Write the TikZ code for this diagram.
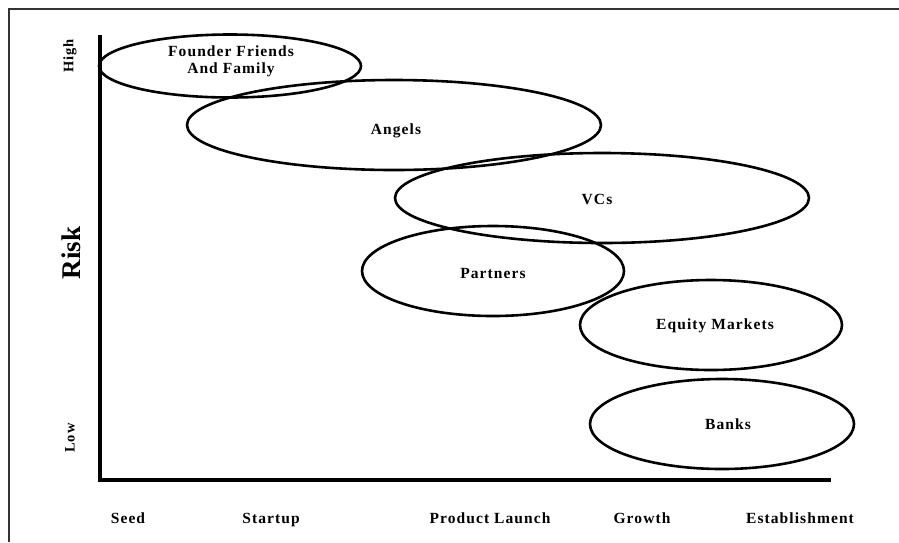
\documentclass[tikz,border=0pt]{standalone}
\usepackage{fontspec}
\setmainfont{Liberation Serif}[LetterSpace=7]
\usetikzlibrary{shapes.geometric}
\tikzset{
  source/.style = {draw, ellipse, line width=2.6pt, inner sep=0pt},
  caption/.style = {align=center, font=\bfseries\fontsize{15.5}{17}\selectfont},
  stage/.style = {anchor=base, font=\bfseries\fontsize{15.5}{17}\selectfont},
  level/.style = {rotate=90, font=\bfseries\fontsize{14.5}{16}\selectfont},
}

\begin{document}
\begin{tikzpicture}[x=1pt,y=-1pt]
  \pgfmathsetmacro{\axisx}{100};
  \pgfmathsetmacro{\axisy}{480};
  \useasboundingbox (0,0) rectangle (899,542);
  % frame
  \draw[line width=2pt,black!80] (9,542) -- (9,9) -- (899,9);
  % axes
  \coordinate (origin) at (\axisx,\axisy);
  \coordinate (ytop) at (\axisx,35);
  \coordinate (xend) at (831,\axisy);
  \draw[line width=3.2pt] (ytop) -- (origin) -- (xend);
  % risk levels
  \node[level] (high) at (70,56) {High};
  \node[level] (low) at (70,438) {Low};
  \node[level,font=\bfseries\fontsize{27}{30}\selectfont\addfontfeature{LetterSpace=0}] (risk) at (71,253) {Risk};
  % stages
  \foreach \x/\name/\txt in {128/seed/Seed, 271/startup/Startup, 490/launch/Product Launch,
      642/growth/Growth, 800/establish/Establishment} {%
    \node[stage] (\name) at (\x,523) {\txt};
  }
  % sources of funding
  \node[source, minimum width=262, minimum height=63] (founders) at (230,66) {};
  \node[source, minimum width=414, minimum height=90] (angels) at (394,125) {};
  \node[source, minimum width=414, minimum height=90] (vcs) at (602,198) {};
  \node[source, minimum width=262, minimum height=90] (partners) at (493,271) {};
  \node[source, minimum width=262, minimum height=90] (equity) at (711,325) {};
  \node[source, minimum width=264, minimum height=90] (banks) at (722,424) {};
  % their names
  \node[caption] (founders text) at ([shift={(1,-5)}]founders) {Founder Friends\\And Family};
  \node[caption] (angels text) at ([shift={(2,6)}]angels) {Angels};
  \node[caption] (vcs text) at ([shift={(-5,1)}]vcs) {VCs};
  \node[caption] (partners text) at ([shift={(0,2)}]partners) {Partners};
  \node[caption] (equity text) at ([shift={(4,1)}]equity) {Equity Markets};
  \node[caption] (banks text) at ([shift={(6,0)}]banks) {Banks};
\end{tikzpicture}
\end{document}
